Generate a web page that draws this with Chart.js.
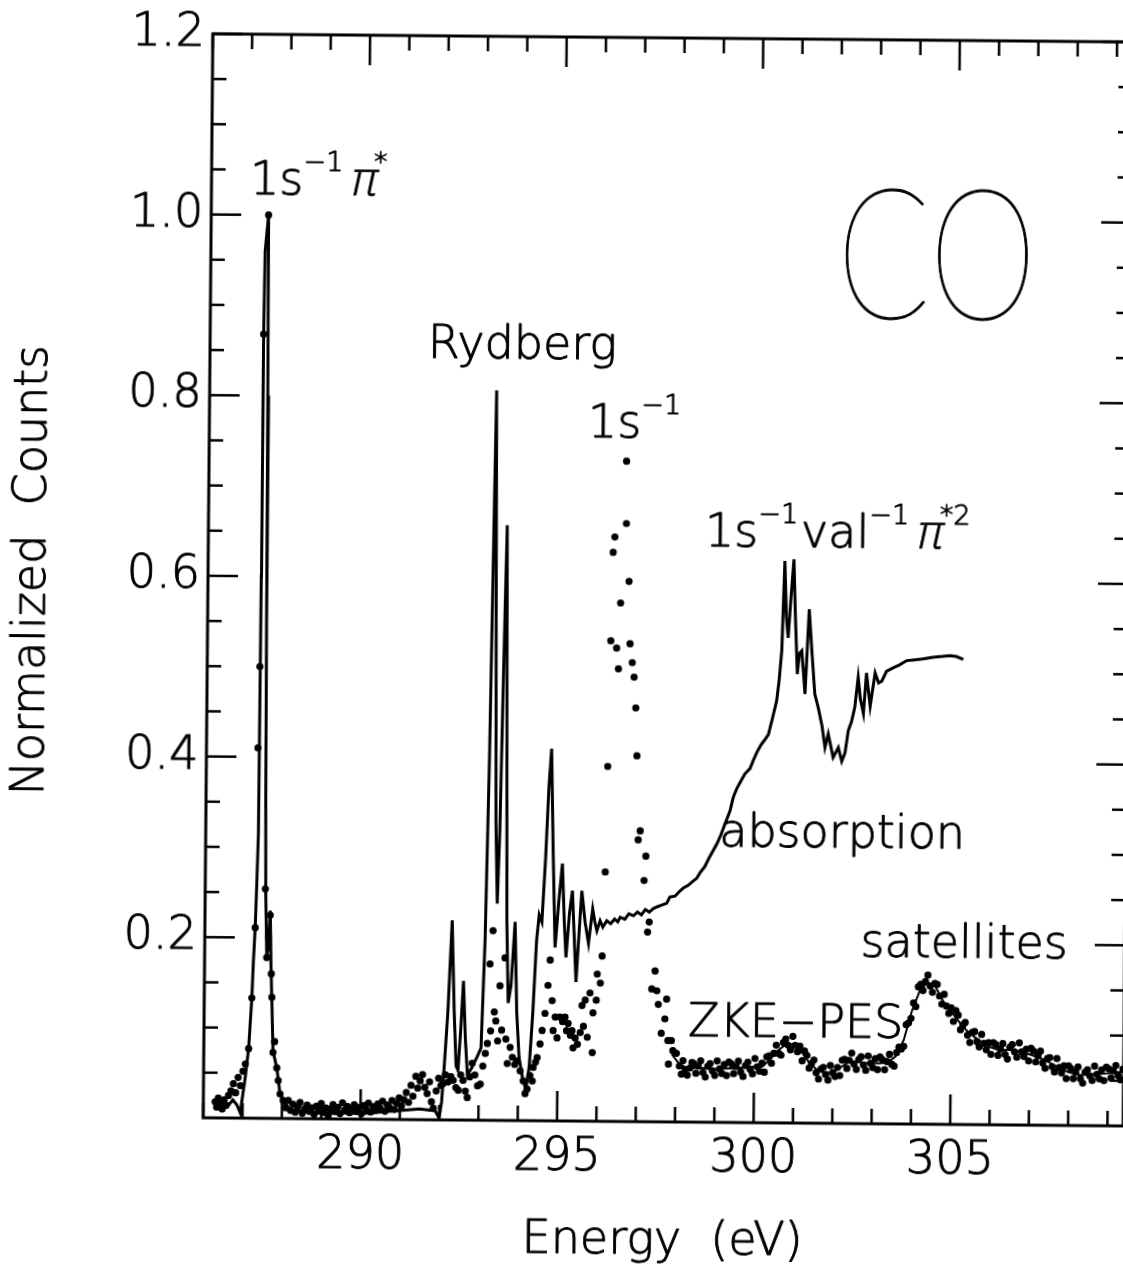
<!DOCTYPE html>
<html>
<head>
<meta charset="utf-8">
<title>CO - absorción y ZKE-PES</title>
<script src="https://cdn.jsdelivr.net/npm/chart.js"></script>
<style>
    html, body { margin: 0; padding: 0; background: #fff; overflow: hidden; }
    /* el escaneo original está levemente girado */
    #lienzo { position: absolute; left: 0; top: 0; width: 1160px; height: 1269px;
              transform-origin: 680px 580px; transform: rotate(0.51deg); }
</style>
</head>
<body>
<div id="lienzo"><canvas id="grafico" width="1160" height="1269"></canvas></div>
<script>
// Marcas de los ejes
const energiaTicks = [290, 295, 300, 305];
const cuentasTicks = [0.2, 0.4, 0.6, 0.8, 1.0, 1.2];

// Espectro de absorción [energía (eV), cuentas normalizadas]
const absorcion = [
    [286.30, 0.012], [286.45, 0.015], [286.60, 0.012], [286.75, 0.020], [286.85, 0.015],
    [286.94, 0.006], [287.06, 0.045], [287.14, 0.077], [287.21, 0.133], [287.24, 0.172],
    [287.28, 0.211], [287.31, 0.259], [287.34, 0.315], [287.355, 0.600], [287.36, 0.868],
    [287.38, 0.960], [287.46, 1.000], [287.48, 0.800], [287.50, 0.550], [287.52, 0.350],
    [287.54, 0.250], [287.58, 0.180], [287.62, 0.190], [287.66, 0.230], [287.69, 0.170],
    [287.72, 0.130], [287.76, 0.075], [287.86, 0.056], [287.95, 0.027], [288.05, 0.018],
    [288.20, 0.010], [288.50, 0.008], [289.00, 0.006], [289.50, 0.007], [290.00, 0.006],
    [290.50, 0.008], [291.00, 0.010], [291.50, 0.012], [291.90, 0.010], [292.00, 0.002],
    [292.06, 0.020], [292.12, 0.060], [292.20, 0.120], [292.29, 0.221], [292.36, 0.120],
    [292.42, 0.060], [292.47, 0.055], [292.53, 0.100], [292.59, 0.154], [292.65, 0.090],
    [292.71, 0.050], [292.82, 0.058], [292.95, 0.070], [293.05, 0.080], [293.13, 0.200],
    [293.20, 0.400], [293.26, 0.650], [293.30, 0.808], [293.34, 0.550], [293.38, 0.330],
    [293.43, 0.240], [293.48, 0.320], [293.54, 0.500], [293.60, 0.659], [293.64, 0.420],
    [293.68, 0.220], [293.73, 0.130], [293.80, 0.150], [293.89, 0.220], [293.95, 0.120],
    [294.02, 0.070], [294.12, 0.045], [294.20, 0.035], [294.28, 0.060], [294.36, 0.120],
    [294.44, 0.200], [294.50, 0.228], [294.57, 0.220], [294.65, 0.290], [294.72, 0.370],
    [294.78, 0.412], [294.84, 0.300], [294.91, 0.192], [295.00, 0.245], [295.08, 0.285],
    [295.14, 0.220], [295.19, 0.181], [295.27, 0.230], [295.34, 0.255], [295.40, 0.200],
    [295.45, 0.154], [295.52, 0.210], [295.58, 0.255], [295.67, 0.220], [295.76, 0.197],
    [295.86, 0.235], [295.92, 0.220], [295.97, 0.211], [296.05, 0.222], [296.12, 0.215],
    [296.22, 0.222], [296.32, 0.219], [296.42, 0.224], [296.50, 0.221], [296.56, 0.226],
    [296.68, 0.224], [296.78, 0.230], [296.90, 0.228], [297.00, 0.232], [297.10, 0.229],
    [297.20, 0.235], [297.30, 0.232], [297.40, 0.236], [297.50, 0.238], [297.62, 0.240],
    [297.74, 0.242], [297.82, 0.249], [297.95, 0.250], [298.08, 0.256], [298.16, 0.259],
    [298.28, 0.262], [298.41, 0.267], [298.50, 0.270], [298.58, 0.276], [298.70, 0.283],
    [298.80, 0.292], [298.90, 0.300], [299.00, 0.308], [299.10, 0.318], [299.20, 0.330],
    [299.33, 0.345], [299.41, 0.360], [299.50, 0.370], [299.60, 0.378], [299.70, 0.386],
    [299.83, 0.392], [299.91, 0.401], [300.00, 0.410], [300.10, 0.418], [300.20, 0.424],
    [300.29, 0.430], [300.40, 0.450], [300.49, 0.467], [300.55, 0.490], [300.61, 0.523],
    [300.67, 0.622], [300.72, 0.560], [300.77, 0.537], [300.83, 0.580], [300.90, 0.624],
    [300.95, 0.560], [301.01, 0.497], [301.06, 0.520], [301.12, 0.523], [301.21, 0.475],
    [301.30, 0.569], [301.38, 0.520], [301.46, 0.475], [301.55, 0.460], [301.65, 0.440],
    [301.73, 0.416], [301.81, 0.431], [301.94, 0.405], [302.07, 0.416], [302.16, 0.401],
    [302.24, 0.410], [302.32, 0.435], [302.40, 0.445], [302.48, 0.461], [302.56, 0.494],
    [302.62, 0.470], [302.70, 0.454], [302.77, 0.499], [302.87, 0.462], [302.99, 0.499],
    [303.08, 0.488], [303.16, 0.490], [303.28, 0.501], [303.45, 0.505], [303.60, 0.508],
    [303.79, 0.513], [304.00, 0.514], [304.20, 0.515], [304.46, 0.517], [304.70, 0.518],
    [304.89, 0.519], [305.05, 0.518], [305.23, 0.515]
];

// Puntos medidos de ZKE-PES [energía (eV), cuentas normalizadas]
const zkePuntos = [
    [286.30, 0.018], [286.34, 0.012], [286.38, 0.022], [286.43, 0.016], [286.48, 0.010],
    [286.53, 0.020], [286.58, 0.014], [286.64, 0.025], [286.70, 0.030], [286.76, 0.038],
    [286.82, 0.028], [286.88, 0.045], [286.94, 0.036], [287.00, 0.052], [287.06, 0.060],
    [287.14, 0.077], [287.21, 0.133], [287.28, 0.211], [287.31, 0.410], [287.34, 0.500],
    [287.36, 0.868], [287.46, 1.000], [287.53, 0.254], [287.58, 0.178], [287.62, 0.200],
    [287.66, 0.225], [287.70, 0.160], [287.72, 0.134], [287.76, 0.073], [287.80, 0.085],
    [287.86, 0.056], [287.90, 0.042], [287.95, 0.027], [288.03, 0.020],
    [288.10, 0.012], [288.16, 0.020], [288.22, 0.009], [288.28, 0.016], [288.34, 0.007],
    [288.40, 0.013], [288.46, 0.018], [288.52, 0.006], [288.58, 0.011], [288.64, 0.015],
    [288.70, 0.008], [288.76, 0.012], [288.82, 0.005], [288.88, 0.014], [288.94, 0.010],
    [289.00, 0.017], [289.06, 0.007], [289.12, 0.012], [289.18, 0.004], [289.24, 0.011],
    [289.30, 0.016], [289.36, 0.008], [289.42, 0.013], [289.48, 0.006], [289.54, 0.018],
    [289.60, 0.010], [289.66, 0.014], [289.72, 0.007], [289.78, 0.012], [289.84, 0.016],
    [289.90, 0.009], [289.96, 0.013], [290.02, 0.006], [290.08, 0.015], [290.14, 0.011],
    [290.20, 0.018], [290.26, 0.008], [290.32, 0.014], [290.38, 0.010], [290.44, 0.017],
    [290.50, 0.012], [290.56, 0.020], [290.62, 0.009], [290.68, 0.016], [290.74, 0.013],
    [290.80, 0.021], [290.86, 0.011], [290.92, 0.018], [290.98, 0.024], [291.04, 0.015],
    [291.10, 0.022], [291.16, 0.030], [291.22, 0.019], [291.28, 0.038], [291.33, 0.026],
    [291.40, 0.048], [291.45, 0.035], [291.51, 0.043], [291.57, 0.050], [291.63, 0.036],
    [291.69, 0.029], [291.75, 0.042], [291.80, 0.020], [291.85, 0.013], [291.92, 0.032],
    [291.98, 0.046], [292.04, 0.038], [292.09, 0.040], [292.15, 0.050], [292.22, 0.042],
    [292.29, 0.048], [292.35, 0.044], [292.42, 0.036], [292.48, 0.033], [292.54, 0.050],
    [292.60, 0.044], [292.66, 0.032], [292.71, 0.025], [292.77, 0.048], [292.83, 0.063],
    [292.90, 0.050], [292.97, 0.038], [293.04, 0.040], [293.10, 0.060], [293.16, 0.074],
    [293.21, 0.085], [293.26, 0.173], [293.29, 0.099], [293.33, 0.210], [293.38, 0.120],
    [293.42, 0.110], [293.47, 0.088], [293.52, 0.149], [293.57, 0.100], [293.64, 0.180],
    [293.68, 0.090], [293.72, 0.063], [293.79, 0.081], [293.85, 0.070], [293.91, 0.062],
    [293.97, 0.066], [294.05, 0.055], [294.13, 0.044], [294.18, 0.030], [294.23, 0.035],
    [294.30, 0.050], [294.36, 0.044], [294.38, 0.059], [294.44, 0.065], [294.48, 0.070],
    [294.55, 0.085], [294.60, 0.100], [294.67, 0.119], [294.74, 0.150], [294.79, 0.178],
    [294.85, 0.133], [294.88, 0.100], [294.93, 0.115], [294.98, 0.092], [295.05, 0.115],
    [295.12, 0.110], [295.18, 0.115], [295.22, 0.100], [295.26, 0.108], [295.32, 0.095],
    [295.36, 0.100], [295.39, 0.081], [295.44, 0.092], [295.50, 0.085], [295.57, 0.098],
    [295.61, 0.128], [295.65, 0.105], [295.69, 0.134], [295.75, 0.093], [295.81, 0.142],
    [295.88, 0.076], [295.89, 0.120], [295.97, 0.134], [295.99, 0.163], [296.07, 0.153],
    [296.11, 0.183], [296.17, 0.276], [296.21, 0.393], [296.26, 0.532], [296.30, 0.630],
    [296.34, 0.647], [296.41, 0.524], [296.46, 0.501], [296.50, 0.574], [296.62, 0.731],
    [296.63, 0.662], [296.71, 0.598], [296.75, 0.529], [296.81, 0.508], [296.86, 0.492],
    [296.91, 0.458], [296.95, 0.405], [297.00, 0.312], [297.05, 0.322], [297.16, 0.267],
    [297.20, 0.294], [297.26, 0.210], [297.30, 0.221], [297.38, 0.147], [297.46, 0.167],
    [297.51, 0.145], [297.55, 0.130], [297.63, 0.098], [297.72, 0.114], [297.76, 0.136],
    [297.80, 0.090], [297.82, 0.064], [297.89, 0.090], [297.93, 0.079], [298.02, 0.076],
    [298.10, 0.062], [298.15, 0.053], [298.19, 0.068], [298.25, 0.058], [298.30, 0.052],
    [298.37, 0.060], [298.42, 0.066],
    [298.46, 0.065], [298.52, 0.054], [298.58, 0.062], [298.64, 0.068], [298.70, 0.055],
    [298.76, 0.050], [298.82, 0.062], [298.88, 0.065], [298.94, 0.057], [299.00, 0.052],
    [299.06, 0.068], [299.12, 0.059], [299.18, 0.054], [299.24, 0.064], [299.30, 0.052],
    [299.36, 0.067], [299.42, 0.065], [299.48, 0.054], [299.54, 0.062], [299.60, 0.068],
    [299.66, 0.056], [299.72, 0.051], [299.78, 0.063], [299.84, 0.067], [299.90, 0.059],
    [299.96, 0.054], [300.02, 0.071], [300.08, 0.062], [300.14, 0.057], [300.20, 0.066],
    [300.26, 0.056], [300.32, 0.073], [300.38, 0.074], [300.44, 0.066], [300.50, 0.077],
    [300.56, 0.086], [300.62, 0.077], [300.68, 0.075], [300.74, 0.089], [300.80, 0.093],
    [300.86, 0.086], [300.92, 0.081], [300.98, 0.096], [301.04, 0.086], [301.10, 0.079],
    [301.16, 0.085], [301.22, 0.069], [301.28, 0.080], [301.34, 0.075], [301.40, 0.061],
    [301.46, 0.066], [301.52, 0.070], [301.58, 0.056], [301.64, 0.049], [301.70, 0.060],
    [301.76, 0.062], [301.82, 0.054], [301.88, 0.048], [301.94, 0.064], [302.00, 0.056],
    [302.06, 0.052], [302.12, 0.062], [302.18, 0.053], [302.24, 0.070], [302.30, 0.071],
    [302.36, 0.061], [302.42, 0.070], [302.48, 0.078], [302.54, 0.066], [302.60, 0.060],
    [302.66, 0.071], [302.72, 0.074], [302.78, 0.065], [302.84, 0.059], [302.90, 0.075],
    [302.96, 0.067], [303.02, 0.062], [303.08, 0.072], [303.14, 0.060], [303.20, 0.074],
    [303.26, 0.071], [303.32, 0.060], [303.38, 0.069], [303.44, 0.077], [303.50, 0.066],
    [303.56, 0.064], [303.62, 0.079], [303.68, 0.085], [303.74, 0.083], [303.80, 0.086],
    [303.86, 0.110], [303.92, 0.112], [303.98, 0.117], [304.04, 0.134], [304.10, 0.130],
    [304.16, 0.152], [304.22, 0.155], [304.28, 0.148], [304.34, 0.158], [304.40, 0.165],
    [304.46, 0.153], [304.52, 0.146], [304.58, 0.156], [304.64, 0.155], [304.70, 0.142],
    [304.76, 0.133], [304.82, 0.144], [304.88, 0.131], [304.94, 0.123], [305.00, 0.129],
    [305.06, 0.114], [305.12, 0.126], [305.18, 0.121], [305.24, 0.105], [305.30, 0.110],
    [305.36, 0.113], [305.42, 0.099], [305.48, 0.091], [305.54, 0.102], [305.60, 0.103],
    [305.66, 0.092], [305.72, 0.086], [305.78, 0.100], [305.84, 0.090], [305.90, 0.083],
    [305.96, 0.091], [306.02, 0.078], [306.08, 0.091], [306.14, 0.089], [306.20, 0.077],
    [306.26, 0.084], [306.32, 0.090], [306.38, 0.078], [306.44, 0.073], [306.50, 0.086],
    [306.56, 0.089], [306.62, 0.081], [306.68, 0.075], [306.74, 0.091], [306.80, 0.081],
    [306.86, 0.076], [306.92, 0.084], [306.98, 0.071], [307.04, 0.085], [307.10, 0.082],
    [307.16, 0.070], [307.22, 0.077], [307.28, 0.082], [307.34, 0.069], [307.40, 0.063],
    [307.46, 0.074], [307.52, 0.075], [307.58, 0.065], [307.64, 0.059], [307.70, 0.074],
    [307.76, 0.064], [307.82, 0.058], [307.88, 0.066], [307.94, 0.052], [308.00, 0.066],
    [308.06, 0.063], [308.12, 0.052], [308.18, 0.059], [308.24, 0.065], [308.30, 0.052],
    [308.36, 0.047], [308.42, 0.059], [308.48, 0.062], [308.54, 0.055], [308.60, 0.050],
    [308.66, 0.066], [308.72, 0.057], [308.78, 0.052], [308.84, 0.062], [308.90, 0.050],
    [308.96, 0.065], [309.02, 0.063], [309.08, 0.053], [309.14, 0.061], [309.20, 0.067],
    [309.26, 0.056], [309.32, 0.051], [309.38, 0.063]
];

// Curva suavizada de ZKE-PES en la zona de satélites
const zkeSuave = [
    [297.90, 0.075], [298.10, 0.064], [298.30, 0.060], [298.60, 0.060], [299.00, 0.059],
    [299.50, 0.060], [300.00, 0.062], [300.20, 0.062], [300.40, 0.070], [300.60, 0.080],
    [300.80, 0.087], [301.00, 0.087], [301.20, 0.079], [301.40, 0.067], [301.60, 0.059],
    [301.80, 0.056], [302.00, 0.056], [302.20, 0.062], [302.40, 0.068], [302.60, 0.069],
    [302.80, 0.067], [303.00, 0.067], [303.20, 0.067], [303.40, 0.068], [303.60, 0.075],
    [303.80, 0.093], [304.00, 0.125], [304.20, 0.148], [304.40, 0.157], [304.60, 0.152],
    [304.80, 0.136], [305.00, 0.125], [305.20, 0.114], [305.40, 0.104], [305.60, 0.097],
    [305.80, 0.091], [306.00, 0.086], [306.20, 0.083], [306.50, 0.083], [306.80, 0.081],
    [307.10, 0.077], [307.40, 0.072], [307.70, 0.065], [308.00, 0.059], [308.30, 0.056],
    [308.60, 0.057], [309.00, 0.058], [309.40, 0.060]
];

const fuente = "'DejaVu Sans'";
const pesoTexto = 200;
const tituloX = 'Energy  (eV)';
const tituloY = 'Normalized  Counts';

// Rótulos del gráfico; cada parte es [texto, superíndice, inclinada]
const rotulos = [
    { e: 286.98, c: 1.023, partes: [['1s', 0], ['\u22121', 1], ['\u03c0', 0, 1], ['*', 1]] },
    { e: 291.54, c: 0.843, partes: [['Rydberg', 0]] },
    { e: 295.63, c: 0.757, partes: [['1s', 0], ['\u22121', 1]] },
    { e: 298.63, c: 0.638, partes: [['1s', 0], ['\u22121', 1], ['val', 0], ['\u22121', 1], ['\u03c0', 0, 1], ['*2', 1]] },
    { e: 299.06, c: 0.305, partes: [['absorption', 0]] },
    { e: 298.31, c: 0.0955, partes: [['ZKE\u2212PES', 0]] },
    { e: 302.68, c: 0.185, partes: [['satellites', 0]] }
];

const aPuntos = (lista) => lista.map(([x, y]) => ({ x, y }));

// texto relleno con un trazo fino para engrosar la letra
function escribir(ctx, texto, x, y, maxAncho) {
    ctx.fillText(texto, x, y, maxAncho);
    ctx.strokeText(texto, x, y, maxAncho);
}

// Marco y marcas hacia adentro en los cuatro lados
const marcoPlugin = {
    id: 'marco',
    afterDatasetsDraw(chart) {
        const { ctx, chartArea: a, scales: { x, y } } = chart;
        const linea = (x1, y1, x2, y2) => {
            ctx.beginPath();
            ctx.moveTo(x1, y1);
            ctx.lineTo(x2, y2);
            ctx.stroke();
        };
        ctx.save();
        ctx.strokeStyle = '#000';
        ctx.lineWidth = 3;
        ctx.strokeRect(a.left, a.top, a.right - a.left, a.bottom - a.top);
        ctx.lineWidth = 2.5;
        for (let e = Math.ceil(x.min); e <= x.max; e++) {
            const px = x.getPixelForValue(e);
            const largo = e % 5 === 0 ? 30 : 15;
            linea(px, a.bottom, px, a.bottom - largo);
            linea(px, a.top, px, a.top + largo);
        }
        for (let k = 1; k * 0.05 <= y.max + 1e-9; k++) {
            const py = y.getPixelForValue(k * 0.05);
            const largo = k % 4 === 0 ? 30 : 14;
            linea(a.left, py, a.left + largo, py);
            linea(a.right, py, a.right - largo, py);
        }
        ctx.restore();
    }
};

// Títulos de ejes, rótulos con superíndices y el nombre de la molécula
const rotulosPlugin = {
    id: 'rotulos',
    afterDraw(chart) {
        const { ctx, chartArea: a, scales: { x, y } } = chart;
        ctx.save();
        ctx.fillStyle = '#000';
        ctx.strokeStyle = '#000';
        ctx.lineWidth = 0.9;
        ctx.lineJoin = 'round';

        ctx.font = `${pesoTexto} 46px ${fuente}`;
        ctx.textAlign = 'center';
        ctx.textBaseline = 'middle';
        escribir(ctx, tituloX, (a.left + a.right) / 2, 1242);
        ctx.save();
        ctx.translate(33, (a.top + a.bottom) / 2 - 4);
        ctx.rotate(-Math.PI / 2);
        escribir(ctx, tituloY, 0, 0);
        ctx.restore();

        ctx.textBaseline = 'alphabetic';
        ctx.textAlign = 'left';
        rotulos.forEach((r) => {
            let cx = x.getPixelForValue(r.e);
            const cy = y.getPixelForValue(r.c);
            r.partes.forEach(([texto, sup, inclinada]) => {
                ctx.font = `${pesoTexto} ${sup ? 27 : 46}px ${fuente}`;
                const base = sup ? cy - 24 : cy;
                if (inclinada) {
                    // la pi va inclinada sin cambiar de grosor
                    ctx.save();
                    ctx.translate(cx + 2, base);
                    ctx.transform(1, 0, -0.21, 1, 0, 0);
                    escribir(ctx, texto, 0, 0);
                    ctx.restore();
                } else {
                    escribir(ctx, texto, cx, base);
                }
                cx += ctx.measureText(texto).width + (sup ? 3 : 0);
            });
        });
        // "CO" con letra muy fina y estrecha
        ctx.font = "100 182px Lato";
        ctx.lineWidth = 1.2;
        escribir(ctx, 'CO', x.getPixelForValue(301.92), y.getPixelForValue(0.891), 200);
        ctx.restore();
    }
};

const ctx = document.getElementById('grafico').getContext('2d');
new Chart(ctx, {
    type: 'scatter',
    data: {
        datasets: [
            {
                label: 'absorption',
                data: aPuntos(absorcion),
                showLine: true,
                borderColor: '#000',
                borderWidth: 3,
                pointRadius: 0,
                tension: 0
            },
            {
                label: 'ZKE-PES suave',
                data: aPuntos(zkeSuave),
                showLine: true,
                borderColor: '#000',
                borderWidth: 2,
                pointRadius: 0,
                tension: 0
            },
            {
                label: 'ZKE-PES',
                data: aPuntos(zkePuntos),
                showLine: false,
                backgroundColor: '#000',
                borderWidth: 0,
                pointRadius: 3.6
            }
        ]
    },
    options: {
        responsive: false,
        animation: false,
        events: [],
        layout: { padding: { left: 0, top: 38, right: 32, bottom: 0 } },
        plugins: { legend: { display: false }, tooltip: { enabled: false } },
        scales: {
            x: {
                type: 'linear',
                min: 286,
                max: 309.4,
                afterBuildTicks: (s) => { s.ticks = energiaTicks.map((v) => ({ value: v })); },
                afterFit: (s) => { s.height = 147; },
                grid: { display: false, drawTicks: false },
                border: { display: false },
                ticks: {
                    color: '#000',
                    textStrokeColor: '#000',
                    textStrokeWidth: 0.9,
                    padding: 9,
                    autoSkip: false,
                    maxRotation: 0,
                    font: { family: fuente, size: 46, weight: pesoTexto },
                    callback: (v) => String(v)
                }
            },
            y: {
                type: 'linear',
                min: 0,
                max: 1.2,
                afterBuildTicks: (s) => { s.ticks = cuentasTicks.map((v) => ({ value: v })); },
                afterFit: (s) => { s.width = 208; },
                grid: { display: false, drawTicks: false },
                border: { display: false },
                ticks: {
                    color: '#000',
                    textStrokeColor: '#000',
                    textStrokeWidth: 0.9,
                    padding: 8,
                    autoSkip: false,
                    font: { family: fuente, size: 46, weight: pesoTexto },
                    callback: (v) => v.toFixed(1)
                }
            }
        }
    },
    plugins: [marcoPlugin, rotulosPlugin]
});
</script>
</body>
</html>
